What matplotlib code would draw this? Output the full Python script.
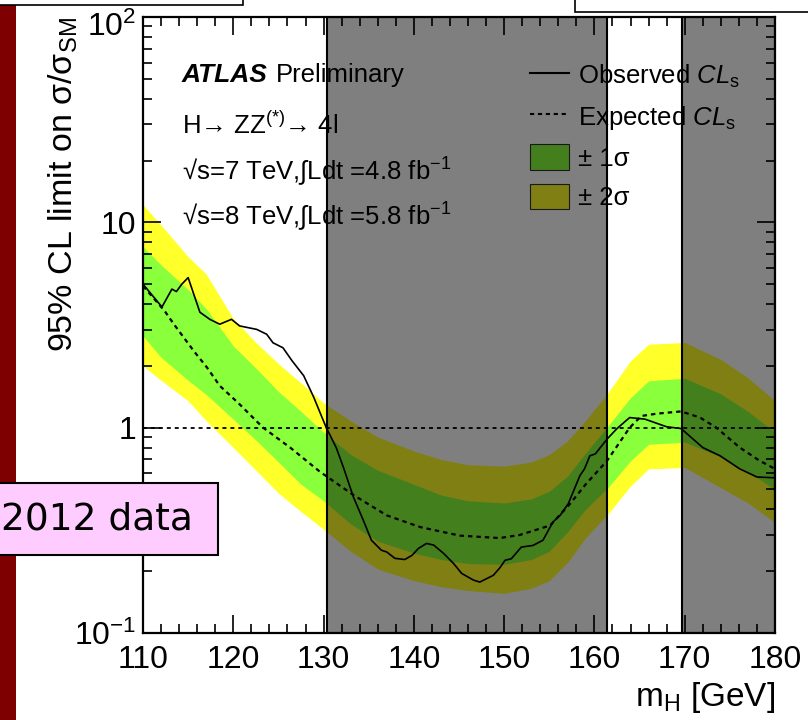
import matplotlib
matplotlib.use('Agg')
import matplotlib.pyplot as plt
import matplotlib.patches as mpatches
import matplotlib.transforms as mtransforms
from matplotlib.lines import Line2D
from matplotlib.ticker import MultipleLocator, LogLocator, NullFormatter

plt.rcParams['font.family'] = ['Liberation Sans', 'DejaVu Sans']
plt.rcParams['mathtext.fontset'] = 'custom'
plt.rcParams['mathtext.rm'] = 'Liberation Sans'
plt.rcParams['mathtext.it'] = 'Liberation Sans:italic'
plt.rcParams['mathtext.bf'] = 'Liberation Sans:bold'

# observed CLs limit
mass_obs = [110, 112.1, 113.2, 113.7, 114.3, 115.0, 116.3, 117.4, 118.5, 119.8,
            120.7, 122.6, 123.7, 124.4, 125.5, 126.5, 127.8, 128.9, 129.8, 130.3,
            131.4, 132.2, 133.3, 134.4, 135.3, 136.4, 137.0, 137.9, 139.0, 139.8,
            140.5, 141.4, 142.2, 143.3, 144.4, 145.3, 146.6, 147.3, 148.8, 149.5,
            150.1, 150.8, 151.9, 153.2, 154.3, 155.4, 156.2, 157.1, 158.4, 158.9,
            159.5, 160.1, 161.4, 162.5, 163.9, 165.6, 168.0, 169.6, 172.0, 173.9,
            176.1, 178.0, 180]
obs = [5.0, 3.87, 4.73, 4.6, 5.0, 5.38, 3.65, 3.37, 3.19, 3.37,
       3.13, 3.01, 2.85, 2.59, 2.45, 2.12, 1.79, 1.41, 1.13, 1.0,
       0.80, 0.64, 0.46, 0.354, 0.283, 0.253, 0.248, 0.231, 0.228, 0.239,
       0.258, 0.273, 0.268, 0.244, 0.218, 0.195, 0.181, 0.177, 0.191, 0.207,
       0.226, 0.23, 0.262, 0.267, 0.283, 0.347, 0.374, 0.426, 0.585, 0.63,
       0.73, 0.745, 0.88, 0.99, 1.12, 1.10, 1.01, 0.99, 0.80, 0.73,
       0.63, 0.575, 0.57]

# expected (median) CLs limit
mass_exp = [110, 112.4, 113.4, 115.6, 117.1, 118.5, 120.7, 123.3, 126.3, 129.6,
            133.3, 137.0, 140.7, 145.1, 149.5, 151.7, 155.1, 157.3, 159.1, 161.4,
            163.9, 165.2, 166.9, 169.6, 171.7, 173.5, 176.1, 178.3, 180]
exp = [4.9, 3.7, 3.2, 2.37, 1.96, 1.6, 1.3, 1.0, 0.80, 0.61,
       0.47, 0.374, 0.328, 0.298, 0.29, 0.30, 0.334, 0.426, 0.534, 0.69,
       1.0, 1.14, 1.17, 1.2, 1.12, 1.0, 0.80, 0.69, 0.63]

# +-1 sigma and +-2 sigma bands
mass_band = [110, 112, 115, 117, 120, 122.5, 125, 127.5, 130, 133, 136, 140, 143,
             146, 150, 153, 155, 157, 159, 161.5, 164, 166, 170, 174, 177, 180]
band_2hi = [12.2, 9.7, 6.8, 5.6, 3.4, 2.6, 2.05, 1.65, 1.32, 1.08, 0.9, 0.77, 0.70,
            0.66, 0.65, 0.68, 0.74, 0.86, 1.08, 1.48, 2.12, 2.55, 2.6, 2.15, 1.75, 1.35]
band_1hi = [7.6, 6.2, 4.7, 3.8, 2.5, 1.95, 1.5, 1.2, 0.95, 0.74, 0.62, 0.53, 0.47,
            0.44, 0.43, 0.45, 0.49, 0.58, 0.75, 1.02, 1.40, 1.69, 1.74, 1.46, 1.2, 0.95]
band_1lo = [2.8, 2.2, 1.7, 1.45, 1.1, 0.87, 0.68, 0.53, 0.44, 0.34, 0.28, 0.245, 0.228,
            0.218, 0.216, 0.228, 0.25, 0.31, 0.40, 0.51, 0.69, 0.83, 0.85, 0.72, 0.61, 0.50]
band_2lo = [2.0, 1.7, 1.35, 1.08, 0.80, 0.62, 0.48, 0.39, 0.32, 0.25, 0.205, 0.18, 0.168,
            0.161, 0.156, 0.165, 0.18, 0.22, 0.29, 0.38, 0.52, 0.63, 0.64, 0.51, 0.43, 0.345]

# mass ranges shaded on the slide
shaded = [(130.4, 161.4), (169.7, 180)]

YELLOW = '#ffff2a'
GREEN = '#8aff3c'

fig = plt.figure(figsize=(8.08, 7.2), dpi=100)
ax = fig.add_axes([143 / 808, 87 / 720, 632 / 808, 616 / 720])

ax.fill_between(mass_band, band_2lo, band_2hi, color=YELLOW, lw=0, zorder=1)
ax.fill_between(mass_band, band_1lo, band_1hi, color=GREEN, lw=0, zorder=1.1)
ax.axhline(1, color='black', lw=1.3, ls=(0, (2.2, 2.2)), zorder=2)
ax.plot(mass_exp, exp, color='black', lw=1.6, ls=(0, (2, 1.8)), zorder=2.2)
ax.plot(mass_obs, obs, color='black', lw=1.2, zorder=2.3)

for lo, hi in shaded:
    ax.axvspan(lo, hi, facecolor=(0, 0, 0, 0.5), edgecolor='black', lw=1.5, zorder=10)

ax.set_xlim(110, 180)
ax.set_yscale('log')
ax.set_ylim(0.1, 100)

ax.xaxis.set_major_locator(MultipleLocator(10))
ax.xaxis.set_minor_locator(MultipleLocator(2))
ax.set_yticks([0.1, 1, 10, 100], labels=[r'$10^{-1}$', '1', '10', r'$10^{2}$'])
ax.yaxis.set_minor_locator(LogLocator(subs=range(2, 10)))
ax.yaxis.set_minor_formatter(NullFormatter())
ax.tick_params(which='both', direction='in', top=True, right=True, width=1.2)
ax.tick_params(which='major', length=13, labelsize=23)
ax.tick_params(which='minor', length=6.5)
ax.tick_params(axis='x', pad=9)
ax.tick_params(axis='y', pad=5)
for sp in ax.spines.values():
    sp.set_linewidth(1.6)

# top label sits a little lower in the original
top_lab = ax.yaxis.get_major_ticks()[-1].label1
top_lab.set_transform(top_lab.get_transform()
                      + mtransforms.ScaledTranslation(0, -7 / 100, fig.dpi_scale_trans))

ax.set_xlabel(r'm$_{\mathrm{H}}$ [GeV]', fontsize=24, loc='right', labelpad=3)
ax.set_ylabel(r'95% CL limit on σ/σ$_{\mathrm{SM}}$', fontsize=24.5, loc='top')
ax.yaxis.set_label_coords(-0.100, 1.0)

# ATLAS labels
ax.text(0.0617, 0.9058, 'ATLAS', transform=ax.transAxes, fontsize=19,
        weight='bold', style='italic', va='center', zorder=3)
ax.text(0.2105, 0.9058, 'Preliminary', transform=ax.transAxes, fontsize=18.5,
        va='center', zorder=3)
ax.text(0.0617, 0.8247, r'H→ ZZ$^{(*)}$→ 4l', transform=ax.transAxes,
        fontsize=18.5, va='center', zorder=3)
ax.text(0.0617, 0.7484, r'√s=7 TeV,∫Ldt =4.8 fb$^{-1}$', transform=ax.transAxes,
        fontsize=18.5, va='center', zorder=3)
ax.text(0.0617, 0.6753, r'√s=8 TeV,∫Ldt =5.8 fb$^{-1}$', transform=ax.transAxes,
        fontsize=18.5, va='center', zorder=3)

handles = [
    Line2D([], [], color='black', lw=1.5),
    Line2D([], [], color='black', lw=1.5, ls=(0, (2, 1.8))),
    mpatches.Patch(facecolor=GREEN, edgecolor='#333333', lw=0.8),
    mpatches.Patch(facecolor=YELLOW, edgecolor='#333333', lw=0.8),
]
labels = [r'Observed $\mathit{CL}_{\mathrm{s}}$', r'Expected $\mathit{CL}_{\mathrm{s}}$',
          '± 1σ', '± 2σ']
leg = ax.legend(handles, labels, loc='upper left', bbox_to_anchor=(0.613, 0.926),
                frameon=False, fontsize=18.5, handlelength=1.5, handleheight=1.15,
                handletextpad=0.35, labelspacing=0.5, borderpad=0, borderaxespad=0)
leg.set_zorder(3)

# slide decorations
fig.add_artist(mpatches.Rectangle((0, 0), 16 / 808, 1, transform=fig.transFigure,
                                  facecolor='#7f0000', edgecolor='none', zorder=20))
fig.add_artist(mpatches.Rectangle((-0.01, 1 - 5 / 720), 243 / 808 + 0.01, 0.05,
                                  transform=fig.transFigure, facecolor='white',
                                  edgecolor='black', lw=1.2, zorder=21))
fig.add_artist(mpatches.Rectangle((575 / 808, 1 - 12 / 720), 0.3, 0.05,
                                  transform=fig.transFigure, facecolor='white',
                                  edgecolor='black', lw=1.2, zorder=21))
fig.add_artist(mpatches.Rectangle((-0.01, 1 - 555 / 720), 218 / 808 + 0.01, 72 / 720,
                                  transform=fig.transFigure, facecolor='#ffccff',
                                  edgecolor='black', lw=1.5, zorder=21))
fig.text(193 / 808, 1 - 519 / 720, '2012 data', fontsize=27, ha='right', va='center',
         family=['DejaVu Sans'], zorder=22)

fig.savefig('out.png', dpi=100)
